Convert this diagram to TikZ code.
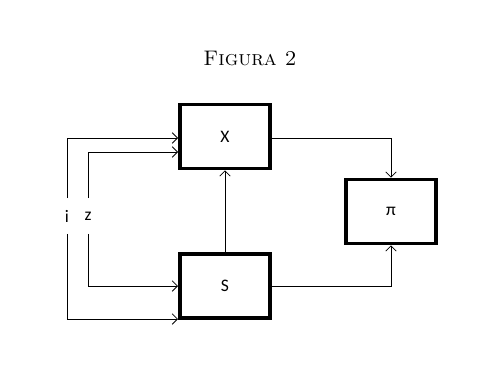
\documentclass[tikz,border=0pt]{standalone}
\usepackage{fontspec}
\newfontfamily\boxfont{Carlito}
\usetikzlibrary{arrows.meta, calc}

\begin{document}
\begin{tikzpicture}[x=0.02cm, y=-0.02cm,
    blk/.style={draw, line width=2pt, minimum width=51.5pt, minimum height=36.5pt,
                font=\boxfont\fontsize{10}{12}\selectfont},
    var/.style={inner sep=0pt, minimum height=20pt, font=\boxfont\fontsize{10}{12}\selectfont},
    arr/.style={-{Straight Barb[length=3pt, width=6pt]}, line width=0.45pt}]
  \useasboundingbox (0,0) rectangle (484,389);

  % Title
  \node[font=\fontsize{12}{14}\selectfont\scshape] (title) at (250,58) {Figura 2};

  % Blocks
  \node[blk] (X) at (225,136.5) {X};
  \node[blk] (S) at (225,286) {S};
  \node[blk] (pi) at (391,211.5) {π};

  % Inputs
  \node[var] (i) at (67,216) {i};
  \node[var] (z) at (88,216) {z};

  % Input lines
  \draw[arr] (i.north) |- ($(X.west)+(0,1.5)$);
  \draw[arr] (z.north) |- ($(X.west)+(0,15.5)$);
  \draw[arr] (z.south) |- (S.west);
  \draw[arr] (i.south) |- ($(S.west)+(0,33)$);

  % Links between blocks
  \draw[arr] (S) -- (X);
  \draw[arr] ($(X.east)+(0,1.5)$) -| (pi.north);
  \draw[arr] (S.east) -| (pi.south);
\end{tikzpicture}
\end{document}
